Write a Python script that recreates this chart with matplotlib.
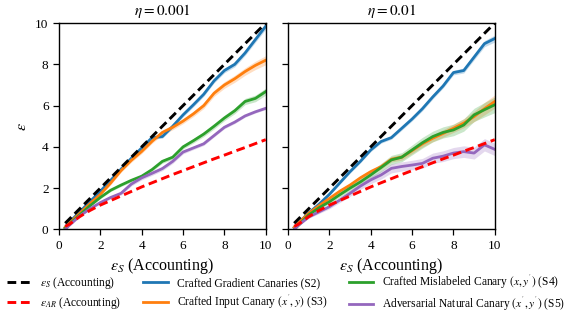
import matplotlib.pyplot as plt

plt.rcParams['font.family'] = 'Liberation Serif'
plt.rcParams['mathtext.fontset'] = 'stix'

# eje x: epsilon de accounting
eps_s = [0.3, 0.5, 1.0, 1.5, 2.0, 2.5, 3.0, 3.5, 4.0, 4.5, 5.0, 5.5, 6.0, 6.5, 7.0, 7.5, 8.0, 8.5, 9.0, 9.5, 10.0]

# linea de referencia eps_AR (igual en ambos paneles)
eps_ar = [0.15, 0.25, 0.62, 0.92, 1.18, 1.4, 1.62, 1.84, 2.06, 2.26, 2.46, 2.66, 2.85, 3.04, 3.23, 3.42, 3.6, 3.79, 3.97, 4.16, 4.35]

# eta = 0.001
grad_1 = [0.1, 0.35, 0.85, 1.35, 1.85, 2.38, 2.92, 3.45, 3.95, 4.45, 4.5, 5.0, 5.55, 6.04, 6.55, 7.2, 7.7, 8.0, 8.55, 9.2, 9.85]
input_1 = [0.1, 0.3, 0.78, 1.25, 1.7, 2.25, 2.85, 3.35, 3.78, 4.27, 4.7, 4.95, 5.25, 5.6, 6.0, 6.6, 7.0, 7.3, 7.65, 7.95, 8.2]
mislab_1 = [0.05, 0.25, 0.7, 1.15, 1.55, 1.9, 2.15, 2.38, 2.58, 2.9, 3.3, 3.5, 4.0, 4.3, 4.62, 5.0, 5.4, 5.75, 6.2, 6.35, 6.68]
natural_1 = [0.0, 0.2, 0.65, 1.0, 1.3, 1.55, 1.75, 2.2, 2.5, 2.72, 2.95, 3.3, 3.75, 3.95, 4.15, 4.55, 4.95, 5.2, 5.5, 5.7, 5.87]

grad_1_sd = [0.02, 0.03, 0.05, 0.05, 0.06, 0.06, 0.07, 0.07, 0.08, 0.08, 0.08, 0.09, 0.09, 0.1, 0.1, 0.1, 0.11, 0.12, 0.12, 0.13, 0.15]
input_1_sd = [0.02, 0.03, 0.05, 0.06, 0.07, 0.08, 0.08, 0.09, 0.1, 0.1, 0.11, 0.12, 0.12, 0.13, 0.14, 0.15, 0.16, 0.17, 0.18, 0.2, 0.22]
mislab_1_sd = [0.02, 0.03, 0.04, 0.05, 0.06, 0.06, 0.07, 0.07, 0.08, 0.08, 0.09, 0.1, 0.1, 0.11, 0.12, 0.13, 0.13, 0.14, 0.15, 0.16, 0.17]
natural_1_sd = [0.02, 0.03, 0.04, 0.05, 0.06, 0.07, 0.08, 0.09, 0.1, 0.1, 0.1, 0.1, 0.09, 0.08, 0.08, 0.07, 0.07, 0.07, 0.06, 0.06, 0.06]

# eta = 0.01
grad_2 = [0.1, 0.3, 0.8, 1.22, 1.7, 2.25, 2.8, 3.3, 3.85, 4.26, 4.45, 4.9, 5.35, 5.85, 6.42, 6.95, 7.6, 7.7, 8.35, 9.0, 9.25]
input_2 = [0.1, 0.3, 0.78, 1.15, 1.5, 1.85, 2.15, 2.5, 2.8, 3.04, 3.4, 3.5, 3.82, 4.15, 4.42, 4.65, 4.9, 5.15, 5.47, 5.85, 6.2]
mislab_2 = [0.0, 0.2, 0.7, 1.05, 1.34, 1.68, 2.0, 2.3, 2.64, 3.0, 3.37, 3.5, 3.85, 4.2, 4.5, 4.7, 4.82, 5.06, 5.55, 5.8, 6.04]
natural_2 = [0.0, 0.2, 0.6, 0.85, 1.1, 1.42, 1.75, 2.1, 2.4, 2.64, 2.96, 3.05, 3.12, 3.2, 3.45, 3.55, 3.7, 3.77, 3.7, 4.1, 3.88]

grad_2_sd = [0.02, 0.03, 0.05, 0.05, 0.06, 0.06, 0.07, 0.07, 0.08, 0.08, 0.08, 0.09, 0.09, 0.1, 0.1, 0.1, 0.11, 0.12, 0.13, 0.15, 0.17]
input_2_sd = [0.02, 0.03, 0.05, 0.06, 0.07, 0.08, 0.09, 0.1, 0.11, 0.12, 0.13, 0.14, 0.15, 0.16, 0.17, 0.18, 0.2, 0.22, 0.25, 0.3, 0.32]
mislab_2_sd = [0.02, 0.04, 0.06, 0.08, 0.1, 0.12, 0.14, 0.16, 0.18, 0.2, 0.22, 0.22, 0.24, 0.26, 0.26, 0.27, 0.28, 0.3, 0.32, 0.35, 0.38]
natural_2_sd = [0.02, 0.04, 0.06, 0.08, 0.1, 0.12, 0.14, 0.16, 0.18, 0.2, 0.22, 0.22, 0.23, 0.24, 0.25, 0.26, 0.27, 0.28, 0.29, 0.3, 0.3]

titles = [r'$\eta = 0.001$', r'$\eta = 0.01$']
labels = ['Crafted Gradient Canaries (S2)',
          r"Crafted Input Canary $(x^{'}, y)$ (S3)",
          r"Crafted Mislabeled Canary $(x, y^{'})$ (S4)",
          r"Adversarial Natural Canary $(x^{'}, y^{'})$ (S5)"]
colores = ['#1f77b4', '#ff7f0e', '#2ca02c', '#9467bd']

paneles = [
    ([grad_1, input_1, mislab_1, natural_1], [grad_1_sd, input_1_sd, mislab_1_sd, natural_1_sd]),
    ([grad_2, input_2, mislab_2, natural_2], [grad_2_sd, input_2_sd, mislab_2_sd, natural_2_sd]),
]

fig = plt.figure(figsize=(5.76, 3.2), dpi=100)
ax1 = fig.add_axes([0.1024, 0.283, 0.359, 0.645])
ax2 = fig.add_axes([0.5, 0.283, 0.359, 0.645])

for i, ax in enumerate([ax1, ax2]):
    series, sds = paneles[i]
    h_s, = ax.plot(eps_s, eps_s, color='black', ls='--', lw=2.1, dashes=(3, 1.6),
                   label=r'$\varepsilon_S$ (Accounting)', zorder=5)
    h_ar, = ax.plot(eps_s, eps_ar, color='red', ls='--', lw=2.1, dashes=(3, 1.6),
                    label=r'$\varepsilon_{AR}$ (Accounting)', zorder=5)
    hs = []
    for y, sd, c, lab in zip(series, sds, colores, labels):
        lo = [a - b for a, b in zip(y, sd)]
        hi = [a + b for a, b in zip(y, sd)]
        ax.fill_between(eps_s, lo, hi, color=c, alpha=0.25, lw=0)
        h, = ax.plot(eps_s, y, color=c, lw=2.0, label=lab)
        hs.append(h)
    ax.set_xlim(0, 10)
    ax.set_ylim(0, 10)
    ax.set_xticks([0, 2, 4, 6, 8, 10])
    ax.set_yticks([0, 2, 4, 6, 8, 10])
    ax.tick_params(labelsize=9.5, length=4, width=0.9)
    ax.set_title(titles[i], fontsize=11, pad=6)
    ax.set_xlabel(r'$\varepsilon_S$ (Accounting)', fontsize=11.5, labelpad=3)
    for s in ax.spines.values():
        s.set_linewidth(1.0)

ax1.set_ylabel(r'$\varepsilon$', fontsize=11.5)
ax2.tick_params(labelleft=False)

handles = [h_s, h_ar] + hs
fig.legend(handles, [h.get_label() for h in handles], loc='lower left',
           bbox_to_anchor=(-0.006, -0.01), ncol=3, frameon=False, fontsize=8.3,
           handlelength=2.1, columnspacing=1.9, handletextpad=0.8, labelspacing=0.3)

fig.savefig('out.png', dpi=100)
